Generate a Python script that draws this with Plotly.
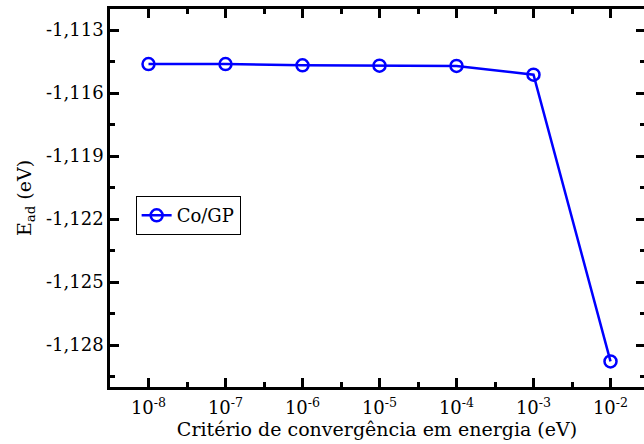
import plotly.graph_objects as go

exponents = [-8, -7, -6, -5, -4, -3, -2]
x_ticklabels = ["10<sup>-8</sup>", "10<sup>-7</sup>", "10<sup>-6</sup>", "10<sup>-5</sup>",
                "10<sup>-4</sup>", "10<sup>-3</sup>", "10<sup>-2</sup>"]
e_ad = [-1.11462, -1.11462, -1.11468, -1.11470, -1.11471, -1.11513, -1.12878]
y_tickvals = [-1.128, -1.125, -1.122, -1.119, -1.116, -1.113]
y_ticklabels = ["-1,128", "-1,125", "-1,122", "-1,119", "-1,116", "-1,113"]

FONT = "DejaVu Serif"
YRANGE = [-1.13, -1.112]

fig = go.Figure()
fig.add_trace(go.Scatter(
    x=exponents, y=e_ad, mode="lines+markers", name="Co/GP",
    line=dict(color="#0000ff", width=2.5),
    marker=dict(symbol="circle-open", size=12, color="#0000ff", line=dict(width=2.5, color="#0000ff")),
))
# invisible helper so the right-hand tick axis is drawn
fig.add_trace(go.Scatter(
    x=exponents, y=e_ad, yaxis="y2", mode="lines", opacity=0,
    showlegend=False, hoverinfo="skip", line=dict(width=0),
))

tickstyle = dict(ticks="inside", tickwidth=2.5, tickcolor="black", showgrid=False, zeroline=False,
                 tickfont=dict(family=FONT, size=18, color="black"))

fig.update_layout(
    width=644, height=444,
    margin=dict(l=110, r=0, t=9, b=57),
    paper_bgcolor="white", plot_bgcolor="white",
    font=dict(family=FONT, size=19, color="black"),
    showlegend=True,
    legend=dict(x=0.048, y=0.505, xanchor="left", yanchor="top",
                bordercolor="black", borderwidth=1, bgcolor="white",
                font=dict(family=FONT, size=18, color="black"),
                itemwidth=30, tracegroupgap=0),
    xaxis=dict(range=[-8.5, -1.565], tickvals=exponents, ticktext=x_ticklabels,
               showline=True, linecolor="black", linewidth=2.5, mirror="ticks", ticklen=9,
               ticklabelstandoff=3,
               minor=dict(dtick=0.5, tick0=-8.5, ticklen=5, tickwidth=2.5, tickcolor="black", ticks="inside"),
               title=dict(text="Critério de convergência em energia (eV)", standoff=1,
                          font=dict(family=FONT, size=19, color="black")),
               **tickstyle),
    yaxis=dict(range=YRANGE, tickvals=y_tickvals, ticktext=y_ticklabels,
               showline=True, linecolor="black", linewidth=2.5, mirror=False, ticklen=9,
               minor=dict(dtick=0.0015, tick0=-1.113, ticklen=5, tickwidth=2.5, tickcolor="black", ticks="inside"),
               title=dict(text="E<sub>ad</sub> (eV)", standoff=10,
                          font=dict(family=FONT, size=19, color="black")),
               **tickstyle),
    yaxis2=dict(range=YRANGE, tickvals=y_tickvals, showticklabels=False,
                overlaying="y", side="right", anchor="free", position=1, showline=False, ticklen=8,
                minor=dict(dtick=0.0015, tick0=-1.113, ticklen=4, tickwidth=2.5, tickcolor="black", ticks="inside"),
                **tickstyle),
)

fig.write_html("out.html")
